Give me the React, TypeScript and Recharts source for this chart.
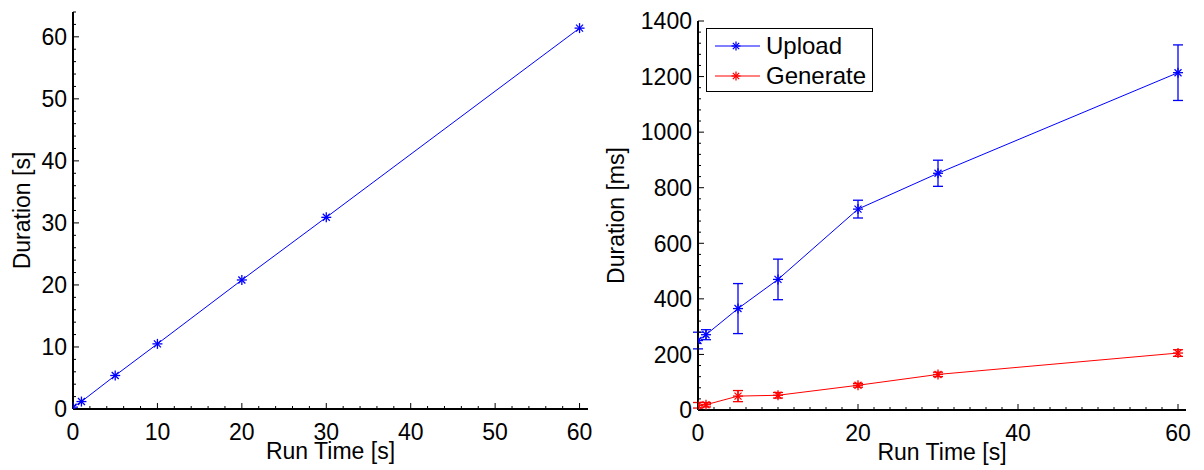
import { LineChart, Line, XAxis, YAxis, ErrorBar, Legend, Label } from "recharts";

// run times tested (s)
const runTime = [0, 1, 5, 10, 20, 30, 60];
// left panel: total duration (s)
const totalDuration = [0.3, 1.2, 5.4, 10.5, 20.8, 30.9, 61.4];
// right panel: per-phase duration (ms) with spread
const uploadMs = [250, 271, 365, 470, 723, 852, 1214];
const uploadErr = [30, 18, 90, 73, 32, 47, 100];
const generateMs = [17, 19, 50, 53, 89, 128, 205];
const generateErr = [10, 8, 20, 10, 7, 8, 12];

const leftXTicks = [0, 10, 20, 30, 40, 50, 60];
const leftYTicks = [0, 10, 20, 30, 40, 50, 60];
const rightXTicks = [0, 20, 40, 60];
const rightYTicks = [0, 200, 400, 600, 800, 1000, 1200, 1400];

const steps = (max: number, step: number) =>
  Array.from({ length: Math.floor(max / step) + 1 }, (_, i) => i * step);

const FONT = "'Liberation Sans', Arial, Helvetica, sans-serif";
const BLUE = "#0000ff";
const RED = "#ff0000";
const FS = 23;

const leftData = runTime.map((t, i) => ({ t, d: totalDuration[i] }));
const rightData = runTime.map((t, i) => ({
  t,
  up: uploadMs[i],
  upErr: uploadErr[i],
  gen: generateMs[i],
  genErr: generateErr[i],
}));

// tick labels (majors only)
function tickLabel(side: string, majors: number[]) {
  return (p: any) => {
    const v = p.payload.value;
    if (!majors.includes(v)) return <g />;
    return side === "bottom" ? (
      <text x={p.x} y={p.y} dy="0.71em" textAnchor="middle" fontSize={FS} fontFamily={FONT} fill="#000">{v}</text>
    ) : (
      <text x={p.x} y={p.y} dy="0.36em" textAnchor="end" fontSize={FS} fontFamily={FONT} fill="#000">{v}</text>
    );
  };
}

// inward tick marks along one side of the box, drawn from the axis' own box
function tickMarks(side: string, majors: number[], minors: number[], max: number, title?: string, titleX?: number) {
  return (p: any) => {
    const vb = p.viewBox;
    const marks = minors.map((v) => {
      const len = majors.includes(v) ? 6 : 3;
      if (side === "bottom" || side === "top") {
        const x = vb.x + (v / max) * vb.width;
        const y0 = side === "bottom" ? vb.y : vb.y + vb.height;
        const y1 = side === "bottom" ? y0 - len : y0 + len;
        return <line key={v} x1={x} x2={x} y1={y0} y2={y1} stroke="#000" strokeWidth={1} />;
      }
      const y = vb.y + vb.height - (v / max) * vb.height;
      const x0 = side === "left" ? vb.x + vb.width : vb.x;
      const x1 = side === "left" ? x0 + len : x0 - len;
      return <line key={v} x1={x0} x2={x1} y1={y} y2={y} stroke="#000" strokeWidth={1} />;
    });
    let t = null;
    if (title && side === "bottom") {
      t = (
        <text x={vb.x + vb.width / 2} y={vb.y + 50} textAnchor="middle" fontSize={FS} fontFamily={FONT} fill="#000">{title}</text>
      );
    } else if (title && side === "left") {
      const cx = titleX ?? 14;
      const cy = vb.y + vb.height / 2;
      t = (
        <text x={cx} y={cy} dy="0.35em" transform={`rotate(-90 ${cx} ${cy})`} textAnchor="middle" fontSize={FS} fontFamily={FONT} fill="#000">
          {title}
        </text>
      );
    }
    return (
      <g>
        {marks}
        {t}
      </g>
    );
  };
}

function Star({ cx, cy, color, r = 5 }: { cx: number; cy: number; color: string; r?: number }) {
  const d = r * 0.7;
  return (
    <g stroke={color} strokeWidth={1.3}>
      <line x1={cx} y1={cy - r} x2={cx} y2={cy + r} />
      <line x1={cx - r} y1={cy} x2={cx + r} y2={cy} />
      <line x1={cx - d} y1={cy - d} x2={cx + d} y2={cy + d} />
      <line x1={cx - d} y1={cy + d} x2={cx + d} y2={cy - d} />
    </g>
  );
}

const starDot = (color: string) => (p: any) =>
  p.cx == null ? <g key={p.index} /> : <Star key={p.index} cx={p.cx} cy={p.cy} color={color} />;

function LegendBox() {
  const rows = [
    { name: "Upload", color: BLUE },
    { name: "Generate", color: RED },
  ];
  return (
    <div style={{ boxSizing: "border-box", width: 167, height: 64, border: "1px solid #000", background: "#fff", paddingTop: 2 }}>
      {rows.map((r) => (
        <div key={r.name} style={{ display: "flex", alignItems: "center", height: 30 }}>
          <svg width={59} height={30}>
            <line x1={8} y1={15} x2={53} y2={15} stroke={r.color} strokeWidth={1} />
            <Star cx={29} cy={15} color={r.color} r={4.5} />
          </svg>
          <span style={{ fontFamily: FONT, fontSize: 24, lineHeight: "30px", color: "#000" }}>{r.name}</span>
        </div>
      ))}
    </div>
  );
}

export default function App() {
  const lxMinor = steps(60, 2);
  const lyMinor = steps(64, 2);
  const rxMinor = steps(60, 2);
  const ryMinor = steps(1400, 40);
  const axisStroke = { stroke: "#000", strokeWidth: 2 };
  return (
    <div style={{ display: "flex", width: 1188, height: 462, background: "#fff" }}>
      <LineChart width={592} height={462} data={leftData} margin={{ top: 4, right: 12, bottom: 11, left: 5 }}>
        <XAxis dataKey="t" type="number" domain={[0, 61]} allowDataOverflow ticks={leftXTicks} interval={0} height={50}
          tickSize={0} tickMargin={15} tickLine={false} axisLine={axisStroke} tick={tickLabel("bottom", leftXTicks)}>
          <Label content={tickMarks("bottom", leftXTicks, lxMinor, 61, "Run Time [s]")} />
        </XAxis>
        <XAxis xAxisId="top" orientation="top" type="number" domain={[0, 61]} allowDataOverflow ticks={leftXTicks} height={0}
          tick={false} tickLine={false} axisLine={axisStroke}>
          <Label content={tickMarks("top", leftXTicks, lxMinor, 61)} />
        </XAxis>
        <YAxis type="number" domain={[0, 64]} allowDataOverflow ticks={leftYTicks} interval={0} width={60}
          tickSize={0} tickMargin={6} tickLine={false} axisLine={axisStroke} tick={tickLabel("left", leftYTicks)}>
          <Label content={tickMarks("left", leftYTicks, lyMinor, 64, "Duration [s]", 14)} />
        </YAxis>
        <YAxis yAxisId="right" orientation="right" type="number" domain={[0, 64]} allowDataOverflow ticks={leftYTicks} width={0}
          tick={false} tickLine={false} axisLine={axisStroke}>
          <Label content={tickMarks("right", leftYTicks, lyMinor, 64)} />
        </YAxis>
        <Line dataKey="d" stroke={BLUE} strokeWidth={1} dot={starDot(BLUE)} activeDot={false} isAnimationActive={false} />
      </LineChart>
      <LineChart width={596} height={462} data={rightData} margin={{ top: 13, right: 10, bottom: 10, left: 38 }}>
        <XAxis dataKey="t" type="number" domain={[0, 61]} allowDataOverflow ticks={rightXTicks} interval={0} height={50}
          tickSize={0} tickMargin={15} tickLine={false} axisLine={axisStroke} tick={tickLabel("bottom", rightXTicks)}>
          <Label content={tickMarks("bottom", rightXTicks, rxMinor, 61, "Run Time [s]")} />
        </XAxis>
        <XAxis xAxisId="top" orientation="top" type="number" domain={[0, 61]} allowDataOverflow ticks={rightXTicks} height={0}
          tick={false} tickLine={false} axisLine={axisStroke}>
          <Label content={tickMarks("top", rightXTicks, rxMinor, 61)} />
        </XAxis>
        <YAxis type="number" domain={[0, 1400]} allowDataOverflow ticks={rightYTicks} interval={0} width={60}
          tickSize={0} tickMargin={6} tickLine={false} axisLine={axisStroke} tick={tickLabel("left", rightYTicks)}>
          <Label content={tickMarks("left", rightYTicks, ryMinor, 1400, "Duration [ms]", 16)} />
        </YAxis>
        <YAxis yAxisId="right" orientation="right" type="number" domain={[0, 1400]} allowDataOverflow ticks={rightYTicks} width={0}
          tick={false} tickLine={false} axisLine={axisStroke}>
          <Label content={tickMarks("right", rightYTicks, ryMinor, 1400)} />
        </YAxis>
        <Legend layout="vertical" align="center" verticalAlign="middle"
          wrapperStyle={{ left: 106, top: 20, width: 167, height: 64 }} content={() => <LegendBox />} />
        <Line dataKey="up" name="Upload" stroke={BLUE} strokeWidth={1} dot={starDot(BLUE)} activeDot={false} isAnimationActive={false}>
          <ErrorBar dataKey="upErr" direction="y" width={5} stroke={BLUE} strokeWidth={1.3} isAnimationActive={false} />
        </Line>
        <Line dataKey="gen" name="Generate" stroke={RED} strokeWidth={1} dot={starDot(RED)} activeDot={false} isAnimationActive={false}>
          <ErrorBar dataKey="genErr" direction="y" width={5} stroke={RED} strokeWidth={1.3} isAnimationActive={false} />
        </Line>
      </LineChart>
    </div>
  );
}
